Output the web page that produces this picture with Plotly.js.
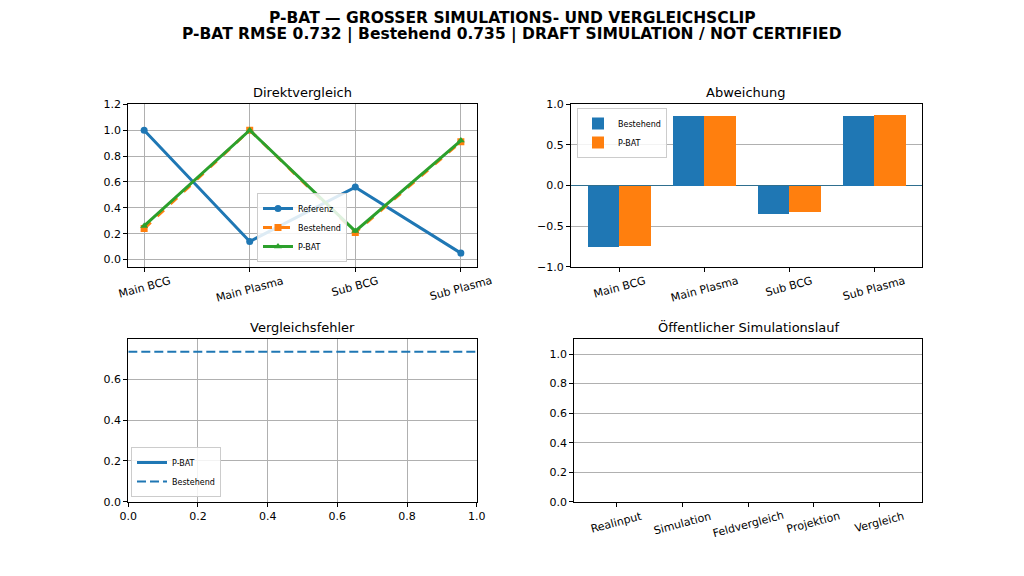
<!DOCTYPE html>
<html>
<head>
<meta charset="utf-8">
<script src="https://cdn.plot.ly/plotly-3.0.1.min.js"></script>
<style>html,body{margin:0;padding:0;background:#fff;}#chart{width:1024px;height:576px;}</style>
</head>
<body>
<div id="chart"></div>
<script>
// ---- data ----
const categories = ["Main BCG", "Main Plasma", "Sub BCG", "Sub Plasma"];
const referenz = [1.0, 0.14, 0.56, 0.05];
const bestehend = [0.24, 1.0, 0.21, 0.91];
const pbat = [0.26, 1.0, 0.22, 0.92];
const abwBestehend = [-0.76, 0.86, -0.35, 0.86];
const abwPbat = [-0.74, 0.86, -0.33, 0.87];
const rmsePbat = 0.732;
const rmseBestehend = 0.735;
const errorSpan = [0, 1];
const errorPbatHistory = [null];
const stages = ["Realinput", "Simulation", "Feldvergleich", "Projektion", "Vergleich"];
const stageValues = [];
const titleLine1 = "P-BAT — GROSSER SIMULATIONS- UND VERGLEICHSCLIP";
const titleLine2 = "P-BAT RMSE " + rmsePbat.toFixed(3) + " | Bestehend " + rmseBestehend.toFixed(3) +
                   " | DRAFT SIMULATION / NOT CERTIFIED";

const C_BLUE = "#1f77b4", C_ORANGE = "#ff7f0e", C_GREEN = "#2ca02c";
const FONT = "DejaVu Sans";
const idx = a => a.map((_, i) => i);

const traces = [
  // top-left
  {x: idx(categories), y: referenz, name: "Referenz", type: "scatter", mode: "lines+markers",
   line: {color: C_BLUE, width: 3}, marker: {symbol: "circle", size: 7, color: C_BLUE},
   xaxis: "x", yaxis: "y", legend: "legend"},
  {x: idx(categories), y: bestehend, name: "Bestehend", type: "scatter", mode: "lines+markers",
   line: {color: C_ORANGE, width: 3, dash: "dash"}, marker: {symbol: "square", size: 7, color: C_ORANGE},
   xaxis: "x", yaxis: "y", legend: "legend"},
  {x: idx(categories), y: pbat, name: "P-BAT", type: "scatter", mode: "lines+markers",
   line: {color: C_GREEN, width: 3}, marker: {symbol: "triangle-up", size: 7, color: C_GREEN},
   xaxis: "x", yaxis: "y", legend: "legend"},
  // top-right
  {x: idx(categories), y: abwBestehend, name: "Bestehend", type: "bar", offset: -0.37, width: 0.37,
   marker: {color: C_BLUE, line: {width: 0}}, xaxis: "x2", yaxis: "y2", legend: "legend2"},
  {x: idx(categories), y: abwPbat, name: "P-BAT", type: "bar", offset: 0, width: 0.37,
   marker: {color: C_ORANGE, line: {width: 0}}, xaxis: "x2", yaxis: "y2", legend: "legend2"},
  // bottom-left
  {x: errorPbatHistory.map((_, i) => i), y: errorPbatHistory, name: "P-BAT", type: "scatter", mode: "lines",
   line: {color: C_BLUE, width: 3}, xaxis: "x3", yaxis: "y3", legend: "legend3", showlegend: true},
  {x: errorSpan, y: errorSpan.map(() => rmseBestehend), name: "Bestehend", type: "scatter", mode: "lines",
   line: {color: C_BLUE, width: 2.2, dash: "9px,4px"}, xaxis: "x3", yaxis: "y3", legend: "legend3"},
  // bottom-right (empty)
  {x: stageValues.map((_, i) => i), y: stageValues, type: "bar", showlegend: false, xaxis: "x4", yaxis: "y4"}
];

const W = 1024, H = 576;
const dx = (a, b) => [a / W, b / W];
const dy = (top, bottom) => [1 - bottom / H, 1 - top / H];

const baseAxis = {
  showline: true, mirror: true, linecolor: "#000", linewidth: 1,
  ticks: "outside", ticklen: 4, tickcolor: "#000", tickwidth: 1,
  tickfont: {family: FONT, size: 11, color: "#000"},
  gridcolor: "#b0b0b0", gridwidth: 1, zeroline: false
};

const D = {
  tl: {x: dx(128.3, 476.7), y: dy(104.3, 266.7)},
  tr: {x: dx(571, 921.7), y: dy(104.3, 266.7)},
  bl: {x: dx(128.3, 476.7), y: dy(339.3, 501.7)},
  br: {x: dx(574.3, 921.7), y: dy(339.3, 501.7)}
};

const legendBase = {bgcolor: "rgba(255,255,255,0.85)", bordercolor: "#cccccc", borderwidth: 1,
  font: {family: FONT, size: 8, color: "#000"}, tracegroupgap: 0, itemwidth: 30};

const annotations = [];
// main title
[[titleLine1, 18], [titleLine2, 35]].forEach(([t, yc]) => annotations.push({
  text: "<b>" + t + "</b>", xref: "paper", yref: "paper", x: 0.5, y: 1 - yc / H,
  xanchor: "center", yanchor: "middle", showarrow: false,
  font: {family: FONT, size: 15.5, color: "#000"}}));
// subplot titles
[["Direktvergleich", D.tl], ["Abweichung", D.tr], ["Vergleichsfehler", D.bl],
 ["Öffentlicher Simulationslauf", D.br]].forEach(([t, d]) => annotations.push({
  text: t, xref: "paper", yref: "paper", x: (d.x[0] + d.x[1]) / 2, y: d.y[1], yshift: 2,
  xanchor: "center", yanchor: "bottom", showarrow: false,
  font: {family: FONT, size: 13, color: "#000"}}));
// rotated category tick labels, centred under their ticks
[["x", categories, D.tl], ["x2", categories, D.tr], ["x4", stages, D.br]].forEach(([ax, labels, d]) =>
  labels.forEach((lab, i) => annotations.push({
    text: lab, xref: ax, yref: "paper", x: i, y: d.y[0], yshift: -5, textangle: -15,
    xanchor: "center", yanchor: "top", showarrow: false,
    font: {family: FONT, size: 11, color: "#000"}})));

const layout = {
  width: W, height: H,
  margin: {l: 0, r: 0, t: 0, b: 0},
  paper_bgcolor: "#fff", plot_bgcolor: "#fff",
  font: {family: FONT, color: "#000"},
  showlegend: true,
  bargap: 0,
  xaxis: Object.assign({}, baseAxis, {domain: D.tl.x, anchor: "y", range: [-0.15, 3.15],
    tickvals: idx(categories), showticklabels: false, showgrid: true}),
  yaxis: Object.assign({}, baseAxis, {domain: D.tl.y, anchor: "x", range: [-0.055, 1.2],
    tickvals: [0, 0.2, 0.4, 0.6, 0.8, 1.0, 1.2], tickformat: ".1f", showgrid: true}),
  xaxis2: Object.assign({}, baseAxis, {domain: D.tr.x, anchor: "y2", range: [-0.57, 3.56],
    tickvals: idx(categories), showticklabels: false, showgrid: false}),
  yaxis2: Object.assign({}, baseAxis, {domain: D.tr.y, anchor: "x2", range: [-1, 1],
    tickvals: [-1, -0.5, 0, 0.5, 1], tickformat: ".1f", showgrid: true,
    zeroline: true, zerolinecolor: "#2f6f8f", zerolinewidth: 1.2}),
  xaxis3: Object.assign({}, baseAxis, {domain: D.bl.x, anchor: "y3", range: [0, 1],
    tickvals: [0, 0.2, 0.4, 0.6, 0.8, 1.0], tickformat: ".1f", showgrid: true}),
  yaxis3: Object.assign({}, baseAxis, {domain: D.bl.y, anchor: "x3", range: [0, 0.796],
    tickvals: [0, 0.2, 0.4, 0.6], tickformat: ".1f", showgrid: true}),
  xaxis4: Object.assign({}, baseAxis, {domain: D.br.x, anchor: "y4", range: [-0.65, 4.65],
    tickvals: idx(stages), showticklabels: false, showgrid: false}),
  yaxis4: Object.assign({}, baseAxis, {domain: D.br.y, anchor: "x4", range: [0, 1.1],
    tickvals: [0, 0.2, 0.4, 0.6, 0.8, 1.0], tickformat: ".1f", showgrid: true}),
  legend: Object.assign({}, legendBase, {x: 302 / W, y: 1 - 262 / H, xanchor: "center", yanchor: "bottom"}),
  legend2: Object.assign({}, legendBase, {x: 577 / W, y: 1 - 108 / H, xanchor: "left", yanchor: "top"}),
  legend3: Object.assign({}, legendBase, {x: 131 / W, y: 1 - 497 / H, xanchor: "left", yanchor: "bottom"}),
  annotations: annotations
};

Plotly.newPlot("chart", traces, layout, {staticPlot: true, displayModeBar: false});
</script>
</body>
</html>
